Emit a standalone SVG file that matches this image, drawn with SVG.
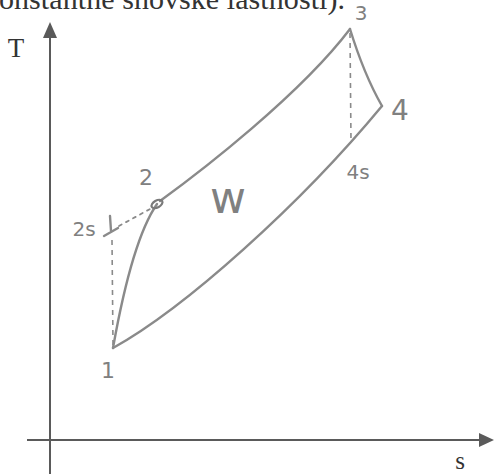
<svg xmlns="http://www.w3.org/2000/svg" width="494" height="474" viewBox="0 0 494 474">
<style>
.ax{stroke:#5a5a5a;stroke-width:2;fill:none}
.ah{fill:#5a5a5a}
.cur{stroke:#8a8a8a;stroke-width:2.4;fill:none;stroke-linecap:round;stroke-linejoin:round}
.dash{stroke:#8a8a8a;stroke-width:1.6;fill:none;stroke-dasharray:5 5}
.dot{stroke:#8a8a8a;stroke-width:1.8;fill:none;stroke-dasharray:3 5;stroke-linecap:round}
.serif{font-family:"Liberation Serif","Times New Roman",serif;fill:#333}
.hand{font-family:"DejaVu Sans","Liberation Sans",sans-serif;fill:#808080}
</style>
<rect width="494" height="474" fill="#fff"/>
<text class="serif" x="-1" y="9" font-size="30" textLength="346" lengthAdjust="spacing">onstantne snovske lastnosti).</text>
<g id="axes">
<line class="ax" x1="50" y1="36" x2="50" y2="474"/>
<polygon class="ah" points="50,22 57,38 43,38"/>
<line class="ax" x1="27" y1="440" x2="482" y2="440"/>
<polygon class="ah" points="494,440 479,433 479,447"/>
<text class="serif" x="16" y="57" font-size="27" text-anchor="middle">T</text>
<text class="serif" x="460" y="469" font-size="25" text-anchor="middle">s</text>
</g>
<g id="connectors">
<path class="cur" d="M113,348 C118,320 132,240 157,204"/>
<path class="cur" d="M160,201 C200,172 300,95 350,29"/>
<path class="cur" d="M350,29 C358,55 370,85 382,106"/>
<path class="cur" d="M113,348 C185,308 300,205 382,106"/>
<path class="dash" d="M350,33 L351,142"/>
<path class="dash" d="M112,240 L113,345"/>
<path class="dot" d="M119,226 L150,209"/>
<path class="cur" d="M110,216 L111,231 M104,236 L118,228" stroke-width="1.8"/>
</g>
<g id="node-1"><text class="hand" x="108" y="378" font-size="22" text-anchor="middle">1</text></g>
<g id="node-2"><ellipse cx="157" cy="204" rx="6" ry="3.5" transform="rotate(-30 157 204)" fill="none" stroke="#7a7a7a" stroke-width="2.2"/><text class="hand" x="146" y="185" font-size="22" text-anchor="middle">2</text></g>
<g id="node-2s"><text class="hand" x="84" y="236" font-size="20" text-anchor="middle">2s</text></g>
<g id="node-3"><text class="hand" x="361" y="20" font-size="20" text-anchor="middle">3</text></g>
<g id="node-4"><text class="hand" x="400" y="120" font-size="28" text-anchor="middle">4</text></g>
<g id="node-4s"><text class="hand" x="358" y="179" font-size="20" text-anchor="middle">4s</text></g>
<g id="label-w"><text class="hand" x="228" y="213" font-size="44" text-anchor="middle">w</text></g>
</svg>
